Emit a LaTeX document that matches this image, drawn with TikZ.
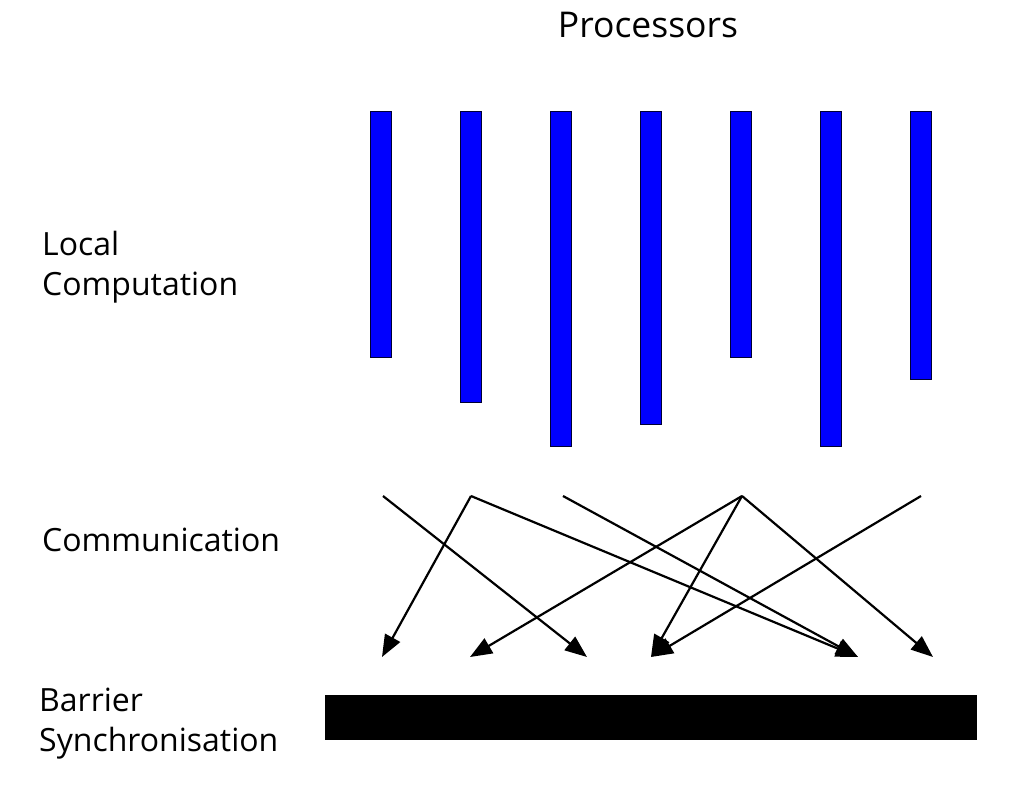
\documentclass[tikz,border=0pt]{standalone}
\usepackage{fontspec}
\setmainfont{Open Sans}
\usetikzlibrary{arrows.meta}
\definecolor{barblue}{RGB}{0,0,255}
\tikzset{
  procbar/.style={draw=black!80!blue, line width=0.8pt, fill=barblue},
  msg/.style={line width=2.2pt, -{Triangle[length=22pt,width=17pt]}, shorten >=0pt},
  lbl/.style={anchor=base west, inner sep=0pt, font=\fontsize{32}{40}\selectfont},
}
\begin{document}
\begin{tikzpicture}[x=1pt,y=-1pt]
\useasboundingbox (0,0) rectangle (1018,786);
% title
\node[anchor=base, inner sep=0pt, font=\fontsize{35.5}{42}\selectfont] (title) at (648,38) {Processors};
% labels
\node[lbl] (lc1) at (42,256) {Local};
\node[lbl] (lc2) at (42,296) {Computation};
\node[lbl] (comm) at (42,551) {Communication};
\node[lbl] (bs1) at (39,711) {Barrier};
\node[lbl] (bs2) at (39,751) {Synchronisation};
% processor bars
\foreach \i/\x/\b in {1/370/357, 2/460/402, 3/550/446, 4/640/424, 5/730/357, 6/820/446, 7/910/379}{
  \path[procbar] (\x,111) rectangle (\x+21,\b);
  \coordinate (p\i) at (\x+10.5,111);
}
% barrier
\path[fill=black] (325,695) rectangle (977,740);
\coordinate (barrier) at (651,717);
% message sources and targets
\coordinate (s1) at (383,496);
\coordinate (s2) at (471,496);
\coordinate (s3) at (563,496);
\coordinate (s4) at (742,496);
\coordinate (s5) at (921,496);
\coordinate (t1) at (382,657);
\coordinate (t2) at (470,657);
\coordinate (t3) at (587,657);
\coordinate (t4) at (651,657);
\coordinate (t5) at (858,657);
\coordinate (t6) at (933,657);
\draw[msg] (s1) -- (t3);
\draw[msg] (s2) -- (t1);
\draw[msg] (s2) -- (t5);
\draw[msg] (s3) -- (t5);
\draw[msg] (s4) -- (t2);
\draw[msg] (s4) -- (t4);
\draw[msg] (s4) -- (t6);
\draw[msg] (s5) -- (t4);
\end{tikzpicture}
\end{document}
